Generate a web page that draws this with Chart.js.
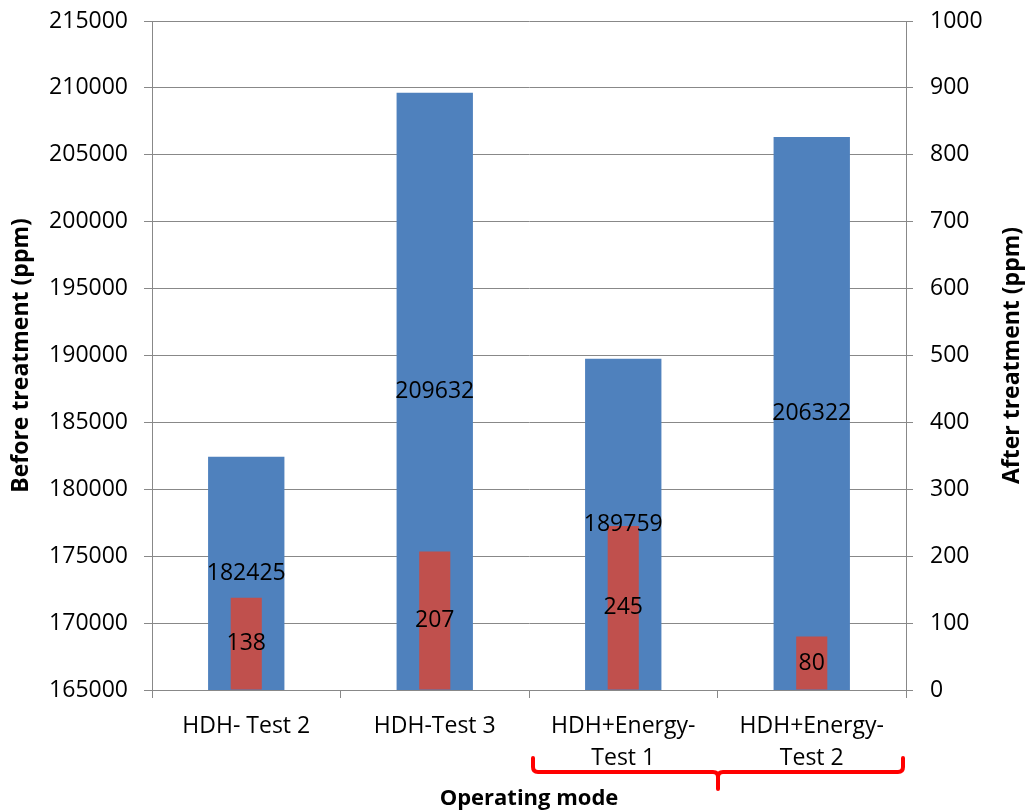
<!DOCTYPE html>
<html>
<head>
<meta charset="utf-8">
<script src="https://cdn.jsdelivr.net/npm/chart.js@4.4.1/dist/chart.umd.min.js"></script>
<style>
  html, body { margin: 0; padding: 0; background: #ffffff; }
  canvas { display: block; }
</style>
</head>
<body>
<canvas id="chart" width="1025" height="812"></canvas>
<script>
// Operating modes on the category axis
const categories = [
  'HDH- Test 2',
  'HDH-Test 3',
  ['HDH+Energy-', 'Test 1'],
  ['HDH+Energy-', 'Test 2']
];
// Concentration before treatment (left axis, ppm)
const beforeTreatment = [182425, 209632, 189759, 206322];
// Concentration after treatment (right axis, ppm)
const afterTreatment = [138, 207, 245, 80];
// Axis ranges and steps
const leftAxisRange = { min: 165000, max: 215000, step: 5000 };
const rightAxisRange = { min: 0, max: 1000, step: 100 };

const FONT = 'Open Sans';
const GRID = '#888888';
const TICK_SIZE = 23;

// Writes each bar's value at the middle of its visible part
const valueLabels = {
  id: 'valueLabels',
  afterDatasetsDraw(chart) {
    const ctx = chart.ctx;
    const area = chart.chartArea;
    ctx.save();
    ctx.font = TICK_SIZE + 'px "' + FONT + '"';
    ctx.fillStyle = '#000000';
    ctx.textAlign = 'center';
    ctx.textBaseline = 'middle';
    // blue series first, red on top of it
    [0, 1].forEach(di => {
      const meta = chart.getDatasetMeta(di);
      const values = chart.data.datasets[di].data;
      meta.data.forEach((bar, i) => {
        const bottom = Math.min(bar.base, area.bottom);
        const top = Math.max(bar.y, area.top);
        ctx.fillText(String(values[i]), bar.x, (top + bottom) / 2);
      });
    });
    ctx.restore();
  }
};

// Right-hand axis title (reads bottom to top) and the bracket under the last two modes
const extras = {
  id: 'extras',
  afterDraw(chart) {
    const ctx = chart.ctx;
    const area = chart.chartArea;
    ctx.save();
    ctx.font = 'bold 23px "' + FONT + '"';
    ctx.fillStyle = '#000000';
    ctx.textAlign = 'center';
    ctx.textBaseline = 'middle';
    ctx.translate(chart.width - 13, (area.top + area.bottom) / 2);
    ctx.rotate(-Math.PI / 2);
    ctx.fillText('After treatment (ppm)', 0, 0);
    ctx.restore();

    // bracket spanning the two HDH+Energy modes
    const x = chart.scales.x;
    const half = (x.getPixelForValue(1) - x.getPixelForValue(0)) / 2;
    const left = x.getPixelForValue(2) - half + 4;
    const right = x.getPixelForValue(3) + half - 3;
    const mid = (left + right) / 2;
    const top = area.bottom + 68;
    const base = area.bottom + 82;
    const tip = area.bottom + 99;
    const r = 5;
    ctx.save();
    ctx.strokeStyle = '#ff0000';
    ctx.lineWidth = 4;
    ctx.lineCap = 'round';
    ctx.lineJoin = 'round';
    ctx.beginPath();
    ctx.moveTo(left, top);
    ctx.lineTo(left, base - r);
    ctx.quadraticCurveTo(left, base, left + r, base);
    ctx.lineTo(mid - r, base);
    ctx.quadraticCurveTo(mid, base, mid, base + r);
    ctx.lineTo(mid, tip);
    ctx.moveTo(mid, base + r);
    ctx.quadraticCurveTo(mid, base, mid + r, base);
    ctx.lineTo(right - r, base);
    ctx.quadraticCurveTo(right, base, right, base - r);
    ctx.lineTo(right, top);
    ctx.stroke();
    ctx.restore();
  }
};

const plainNumber = v => String(v);

// Fixed axis widths; tick labels may overhang the plot area vertically
function fixWidth(width) {
  return scale => {
    scale.width = width;
    scale.paddingTop = 0;
    scale.paddingBottom = 0;
  };
}

new Chart(document.getElementById('chart'), {
  type: 'bar',
  data: {
    labels: categories,
    datasets: [
      {
        label: 'Before treatment',
        data: beforeTreatment,
        backgroundColor: '#4F81BD',
        yAxisID: 'y',
        grouped: false,
        order: 2,
        categoryPercentage: 1,
        barPercentage: 0.405
      },
      {
        label: 'After treatment',
        data: afterTreatment,
        backgroundColor: '#C0504D',
        yAxisID: 'y1',
        grouped: false,
        order: 1,
        categoryPercentage: 1,
        barPercentage: 0.165
      }
    ]
  },
  options: {
    responsive: false,
    animation: false,
    layout: { padding: { top: 21, left: 0, right: 0, bottom: 0 } },
    plugins: {
      legend: { display: false },
      tooltip: { enabled: false }
    },
    scales: {
      x: {
        offset: true,
        grid: {
          offset: true,
          drawOnChartArea: false,
          drawTicks: true,
          tickLength: 8,
          color: GRID
        },
        border: { display: true, color: GRID, width: 1 },
        ticks: {
          color: '#000000',
          padding: 12,
          maxRotation: 0,
          autoSkip: false,
          font: { family: FONT, size: TICK_SIZE, lineHeight: 1.41 }
        },
        title: {
          display: true,
          text: 'Operating mode',
          color: '#000000',
          font: { family: FONT, size: 22, weight: 'bold' },
          padding: { top: 0, bottom: 0 }
        },
        afterFit(scale) {
          scale.height = 122;
          scale.paddingLeft = 0;
          scale.paddingRight = 0;
        }
      },
      y: {
        position: 'left',
        min: leftAxisRange.min,
        max: leftAxisRange.max,
        grid: { color: GRID, tickLength: 8, drawTicks: true },
        border: { display: true, color: GRID, width: 1 },
        ticks: {
          stepSize: leftAxisRange.step,
          color: '#000000',
          padding: 16,
          callback: plainNumber,
          font: { family: FONT, size: TICK_SIZE }
        },
        title: {
          display: true,
          text: 'Before treatment (ppm)',
          color: '#000000',
          font: { family: FONT, size: 23, weight: 'bold' },
          padding: { top: 8, bottom: 0 }
        },
        afterFit: fixWidth(152)
      },
      y1: {
        position: 'right',
        min: rightAxisRange.min,
        max: rightAxisRange.max,
        grid: { drawOnChartArea: false, color: GRID, tickLength: 7, drawTicks: true },
        border: { display: true, color: GRID, width: 1 },
        ticks: {
          stepSize: rightAxisRange.step,
          color: '#000000',
          padding: 17,
          callback: plainNumber,
          font: { family: FONT, size: TICK_SIZE }
        },
        afterFit: fixWidth(119)
      }
    }
  },
  plugins: [valueLabels, extras]
});
</script>
</body>
</html>
